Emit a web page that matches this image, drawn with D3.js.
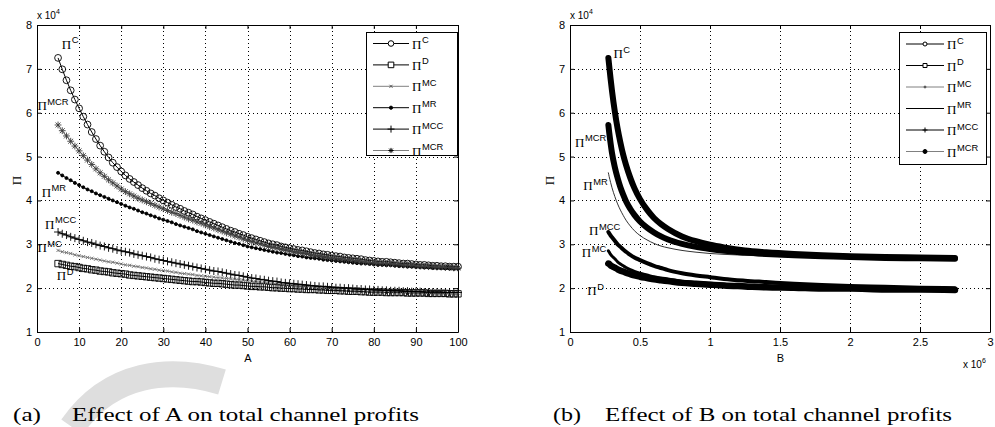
<!DOCTYPE html>
<html lang="en">
<head>
<meta charset="UTF-8">
<title>Effect of A and B on total channel profits</title>
<style>
  body { margin: 0; background: #fff; }
  svg { display: block; }
  text { font-family: "Liberation Sans", Arial, sans-serif; fill: #000; }
  .serif { font-family: "Liberation Serif", "Times New Roman", serif; }
</style>
</head>
<body>
<div id="chart"></div>
<script src="https://cdnjs.cloudflare.com/ajax/libs/d3/7.8.5/d3.min.js"></script>
<script>
// ---- data (profits in units of 10^4) ----
const A_VALUES = d3.range(5, 101);   // A = 5, 6, ..., 100
const piC_A = [7.25,6.99,6.74,6.51,6.30,6.10, 5.91,5.73,5.56,5.40,5.25, 5.11,4.98,4.86,4.76,4.66, 4.57,4.49,4.42,4.35,4.28, 4.22,4.16,4.11,4.05,4.00, 3.95,3.90,3.85,3.81,3.76, 3.72,3.68,3.63,3.59,3.55, 3.51,3.47,3.43,3.39,3.35, 3.31,3.28,3.24,3.21,3.17, 3.14,3.11,3.08,3.05,3.02, 3.00,2.98,2.95,2.93,2.91, 2.89,2.87,2.86,2.84,2.82, 2.80,2.79,2.77,2.76,2.74, 2.73,2.72,2.70,2.69,2.68, 2.67,2.66,2.64,2.63,2.62, 2.61,2.60,2.60,2.59,2.58, 2.57,2.56,2.56,2.55,2.54, 2.53,2.53,2.52,2.51,2.51, 2.50,2.50,2.49,2.49,2.49];
const piD_A = [2.56,2.54,2.52,2.50,2.49,2.47, 2.45,2.44,2.42,2.41,2.39, 2.38,2.37,2.35,2.34,2.33, 2.32,2.30,2.29,2.28,2.27, 2.26,2.25,2.24,2.23,2.22, 2.21,2.20,2.19,2.18,2.17, 2.16,2.15,2.15,2.14,2.13, 2.12,2.11,2.11,2.10,2.09, 2.08,2.07,2.07,2.06,2.05, 2.04,2.04,2.03,2.03,2.02, 2.01,2.01,2.00,2.00,1.99, 1.99,1.98,1.98,1.97,1.97, 1.97,1.96,1.96,1.95,1.95, 1.95,1.94,1.94,1.93,1.93, 1.93,1.92,1.92,1.91,1.91, 1.91,1.91,1.90,1.90,1.90, 1.90,1.90,1.89,1.89,1.89, 1.89,1.89,1.88,1.88,1.88, 1.88,1.88,1.87,1.87,1.87];
const piMC_A = [2.86,2.83,2.81,2.79,2.76,2.74, 2.72,2.70,2.68,2.66,2.64, 2.62,2.60,2.59,2.57,2.55, 2.53,2.52,2.50,2.49,2.47, 2.46,2.44,2.43,2.41,2.40, 2.39,2.37,2.36,2.34,2.33, 2.32,2.31,2.29,2.28,2.27, 2.26,2.25,2.24,2.23,2.22, 2.21,2.20,2.19,2.18,2.17, 2.16,2.15,2.14,2.13,2.12, 2.11,2.10,2.10,2.09,2.08, 2.07,2.06,2.06,2.05,2.04, 2.03,2.03,2.02,2.02,2.01, 2.00,2.00,1.99,1.99,1.98, 1.97,1.97,1.96,1.96,1.95, 1.95,1.94,1.94,1.93,1.93, 1.93,1.92,1.92,1.91,1.91, 1.91,1.90,1.90,1.89,1.89, 1.89,1.89,1.88,1.88,1.88];
const piMR_A = [4.63,4.57,4.51,4.46,4.40,4.35, 4.30,4.25,4.21,4.16,4.12, 4.08,4.04,4.00,3.96,3.92, 3.88,3.84,3.81,3.77,3.73, 3.70,3.66,3.63,3.59,3.56, 3.53,3.50,3.46,3.43,3.40, 3.37,3.34,3.30,3.27,3.24, 3.21,3.18,3.15,3.12,3.09, 3.06,3.03,3.01,2.98,2.95, 2.93,2.91,2.89,2.87,2.85, 2.83,2.81,2.80,2.78,2.76, 2.75,2.73,2.72,2.70,2.69, 2.68,2.67,2.65,2.64,2.63, 2.62,2.61,2.60,2.59,2.58, 2.57,2.56,2.56,2.55,2.54, 2.53,2.53,2.52,2.52,2.51, 2.50,2.50,2.49,2.49,2.48, 2.48,2.47,2.47,2.46,2.46, 2.46,2.45,2.45,2.44,2.44];
const piMCC_A = [3.28,3.24,3.21,3.17,3.14,3.11, 3.08,3.05,3.03,3.00,2.97, 2.95,2.92,2.90,2.87,2.85, 2.83,2.81,2.78,2.76,2.74, 2.72,2.70,2.67,2.65,2.63, 2.61,2.59,2.57,2.55,2.53, 2.51,2.49,2.47,2.45,2.43, 2.41,2.39,2.38,2.36,2.34, 2.32,2.30,2.29,2.27,2.25, 2.23,2.22,2.20,2.19,2.17, 2.16,2.15,2.13,2.12,2.11, 2.10,2.09,2.08,2.07,2.06, 2.05,2.04,2.04,2.03,2.02, 2.01,2.01,2.00,2.00,1.99, 1.98,1.98,1.97,1.97,1.96, 1.96,1.95,1.95,1.94,1.94, 1.94,1.93,1.93,1.92,1.92, 1.92,1.91,1.91,1.91,1.91, 1.91,1.90,1.90,1.90,1.90];
const piMCR_A = [5.72,5.59,5.47,5.35,5.24,5.13, 5.02,4.92,4.82,4.72,4.63, 4.55,4.47,4.40,4.33,4.26, 4.20,4.15,4.10,4.05,4.01, 3.97,3.93,3.89,3.85,3.81, 3.77,3.73,3.70,3.66,3.62, 3.58,3.55,3.51,3.48,3.44, 3.40,3.37,3.33,3.30,3.26, 3.23,3.19,3.16,3.12,3.09, 3.06,3.03,3.01,2.98,2.95, 2.93,2.91,2.89,2.87,2.85, 2.83,2.82,2.80,2.79,2.77, 2.75,2.74,2.72,2.71,2.69, 2.68,2.67,2.66,2.65,2.64, 2.63,2.61,2.60,2.59,2.58, 2.57,2.57,2.56,2.56,2.55, 2.54,2.53,2.53,2.52,2.51, 2.50,2.50,2.49,2.49,2.48, 2.48,2.47,2.47,2.46,2.46];

// B in units of 10^6
const B_VALUES = [0.274,0.28,0.29,0.30,0.32,0.34,0.36,0.38,0.40,0.43,0.46,0.50,0.55,0.60,0.65,0.70,0.80,0.90,1.00,1.10,1.25,1.40,1.60,1.80,2.00,2.25,2.50,2.75];
const piC_B   = [7.25,7.07,6.77,6.50,6.03,5.64,5.32,5.04,4.81,4.52,4.28,4.03,3.79,3.60,3.46,3.35,3.18,3.07,2.99,2.93,2.86,2.82,2.78,2.75,2.73,2.71,2.70,2.69];
const piD_B   = [2.56,2.55,2.52,2.50,2.47,2.43,2.40,2.38,2.35,2.32,2.29,2.26,2.23,2.20,2.18,2.16,2.12,2.10,2.08,2.06,2.04,2.02,2.01,1.99,1.99,1.97,1.97,1.96];
const piMC_B  = [2.85,2.82,2.77,2.73,2.67,2.60,2.55,2.51,2.47,2.42,2.38,2.34,2.30,2.26,2.23,2.21,2.16,2.13,2.11,2.09,2.07,2.05,2.03,2.02,2.01,2.00,1.99,1.98];
const piMR_B  = [4.63,4.54,4.41,4.29,4.09,3.92,3.78,3.66,3.55,3.42,3.31,3.20,3.10,3.02,2.96,2.92,2.86,2.82,2.79,2.77,2.75,2.73,2.71,2.69,2.68,2.67,2.66,2.65];
const piMCC_B = [3.28,3.25,3.20,3.16,3.08,3.00,2.94,2.88,2.83,2.76,2.70,2.64,2.57,2.51,2.46,2.41,2.34,2.29,2.25,2.21,2.17,2.14,2.10,2.07,2.05,2.03,2.01,2.00];
const piMCR_B = [5.72,5.55,5.30,5.08,4.76,4.51,4.30,4.13,3.98,3.81,3.67,3.52,3.38,3.27,3.18,3.11,3.01,2.94,2.89,2.85,2.81,2.78,2.75,2.73,2.71,2.69,2.68,2.67];

const SUPS = ["C", "D", "MC", "MR", "MCC", "MCR"];
const Y_TICKS = [1, 2, 3, 4, 5, 6, 7, 8];
const A_TICKS = [0, 10, 20, 30, 40, 50, 60, 70, 80, 90, 100];
const B_TICKS = [0, 0.5, 1, 1.5, 2, 2.5, 3];

// label anchors (data coordinates) for the curve annotations
const labelsA = [[5.9, 7.46], [4.7, 2.18], [0.1, 2.82], [1.1, 4.08], [1.9, 3.35], [0.1, 6.06]];
const labelsB = [[0.31, 7.24], [0.124, 1.84], [0.084, 2.71], [0.095, 4.23], [0.136, 3.21], [0.036, 5.22]];

const svg = d3.select("#chart").append("svg").attr("width", 995).attr("height", 427);

// faint watermark stroke behind the figure
svg.append("path").attr("d", "M222,382 C170,366 110,372 72,427")
  .attr("fill", "none").attr("stroke", "#dedede").attr("stroke-width", 26);

function markerPath(type, s) {
  if (type === "circle" || type === "dot") return `M${s},0A${s},${s} 0 1,1 ${-s},0A${s},${s} 0 1,1 ${s},0Z`;
  if (type === "square") return `M${-s},${-s}H${s}V${s}H${-s}Z`;
  if (type === "x") return `M${-s},${-s}L${s},${s}M${-s},${s}L${s},${-s}`;
  if (type === "plus") return `M${-s},0H${s}M0,${-s}V${s}`;
  if (type === "star") {
    const d = s * 0.72;
    return `M${-s},0H${s}M0,${-s}V${s}M${-d},${-d}L${d},${d}M${-d},${d}L${d},${-d}`;
  }
  return "";
}

function piLabel(g, x, y, sup, size) {
  const t = g.append("text").attr("x", x).attr("y", y);
  t.append("tspan").attr("class", "serif").attr("font-size", size).text("\u03A0");
  t.append("tspan").attr("font-size", size * 0.72).attr("dy", -size * 0.42).attr("dx", 0.5).text(sup);
}

function caption(x, y, str, len) {
  svg.append("text").attr("class", "serif").attr("font-size", 19)
    .attr("x", x).attr("y", y)
    .attr("textLength", len).attr("lengthAdjust", "spacingAndGlyphs")
    .text(str);
}

function drawFrame(g, x, y, xTicks, xLabel, expo) {
  const [x0, x1] = x.range();
  const [yb, yt] = y.range();

  // dotted grid
  g.append("g").selectAll("line").data(xTicks.slice(1, -1)).join("line")
    .attr("x1", d => Math.round(x(d)) + 0.5).attr("x2", d => Math.round(x(d)) + 0.5)
    .attr("y1", yb).attr("y2", yt)
    .attr("stroke", "#000").attr("stroke-dasharray", "1,3");
  g.append("g").selectAll("line").data(Y_TICKS.slice(1, -1)).join("line")
    .attr("y1", d => Math.round(y(d)) + 0.5).attr("y2", d => Math.round(y(d)) + 0.5)
    .attr("x1", x0).attr("x2", x1)
    .attr("stroke", "#000").attr("stroke-dasharray", "1,3");

  // box with inward ticks
  const fmt = d => String(d);
  g.append("g").attr("transform", `translate(0,${yb})`)
    .call(d3.axisBottom(x).tickValues(xTicks).tickFormat(fmt).tickSizeInner(-4).tickSizeOuter(0).tickPadding(6));
  g.append("g").attr("transform", `translate(0,${yt})`)
    .call(d3.axisTop(x).tickValues(xTicks).tickFormat("").tickSizeInner(-4).tickSizeOuter(0));
  g.append("g").attr("transform", `translate(${x0},0)`)
    .call(d3.axisLeft(y).tickValues(Y_TICKS).tickFormat(fmt).tickSizeInner(-4).tickSizeOuter(0).tickPadding(5));
  g.append("g").attr("transform", `translate(${x1},0)`)
    .call(d3.axisRight(y).tickValues(Y_TICKS).tickFormat("").tickSizeInner(-4).tickSizeOuter(0));
  g.selectAll(".tick text").attr("font-size", 11).attr("font-family", "Liberation Sans, Arial, sans-serif");
  g.selectAll(".domain, .tick line").attr("stroke", "#000");

  // axis labels
  g.append("text").attr("x", (x0 + x1) / 2 + 0.5).attr("y", 362)
    .attr("text-anchor", "middle").attr("font-size", 11).text(xLabel);
  g.append("text").attr("class", "serif").attr("font-size", 13)
    .attr("text-anchor", "middle").attr("dominant-baseline", "central")
    .attr("transform", `translate(${x0 - 21},${(yb + yt) / 2 + 2}) rotate(-90)`).text("\u03A0");

  // y exponent
  const e = g.append("text").attr("x", x0).attr("y", 19).attr("font-size", 10);
  e.append("tspan").text("x 10");
  e.append("tspan").attr("font-size", 7).attr("dy", -5).text(expo);
}

function drawLegend(g, box, rows) {
  g.append("rect").attr("x", box.x + 0.5).attr("y", box.y + 0.5)
    .attr("width", box.w).attr("height", box.h)
    .attr("fill", "#fff").attr("stroke", "#000");
  rows.forEach((r, i) => {
    const yy = box.y + box.first + i * box.step;
    g.append("line").attr("x1", box.lx1).attr("x2", box.lx2).attr("y1", yy).attr("y2", yy)
      .attr("stroke", r.line).attr("stroke-width", 1);
    if (r.marker) {
      g.append("path").attr("transform", `translate(${(box.lx1 + box.lx2) / 2},${yy})`)
        .attr("d", markerPath(r.marker, r.size))
        .attr("fill", r.marker === "dot" ? r.mcolor : (r.marker === "square" || r.marker === "circle" ? "#fff" : "none"))
        .attr("stroke", r.mcolor).attr("stroke-width", 1);
    }
    piLabel(g, box.tx, yy + 5, SUPS[i], 13);
  });
}

// ---------------- panel (a) ----------------
{
  const g = svg.append("g");
  const x = d3.scaleLinear().domain([0, 100]).range([37, 458]);
  const y = d3.scaleLinear().domain([1, 8]).range([332, 25]);
  drawFrame(g, x, y, A_TICKS, "A", "4");

  const series = [
    { v: piC_A,   line: "#000",    marker: "circle", size: 3.4, mcolor: "#000" },
    { v: piD_A,   line: "#000",    marker: "square", size: 3.2, mcolor: "#000" },
    { v: piMC_A,  line: "#808080", marker: "x",      size: 1.6, mcolor: "#707070" },
    { v: piMR_A,  line: "#000",    marker: "dot",    size: 1.5, mcolor: "#000" },
    { v: piMCC_A, line: "#000",    marker: "plus",   size: 4,   mcolor: "#000" },
    { v: piMCR_A, line: "#808080", marker: "star",   size: 3.4, mcolor: "#3a3a3a" }
  ];
  const line = d3.line().x((d, i) => x(A_VALUES[i])).y(d => y(d));
  series.forEach(s => {
    g.append("path").attr("d", line(s.v)).attr("fill", "none")
      .attr("stroke", s.line).attr("stroke-width", 1);
    g.append("g").selectAll("path").data(s.v).join("path")
      .attr("transform", (d, i) => `translate(${x(A_VALUES[i])},${y(d)})`)
      .attr("d", markerPath(s.marker, s.size))
      .attr("fill", s.marker === "dot" ? s.mcolor : "none")
      .attr("stroke", s.mcolor).attr("stroke-width", 0.9);
  });

  labelsA.forEach((p, i) => piLabel(g, x(p[0]), y(p[1]), SUPS[i], 13));

  drawLegend(g, { x: 366, y: 32, w: 91, h: 123, first: 11.5, step: 21.4, lx1: 373, lx2: 409, tx: 412 }, [
    { line: "#000",    marker: "circle", size: 2.8, mcolor: "#000" },
    { line: "#000",    marker: "square", size: 2.8, mcolor: "#000" },
    { line: "#808080", marker: "x",      size: 1.5, mcolor: "#555" },
    { line: "#000",    marker: "dot",    size: 1.6, mcolor: "#000" },
    { line: "#000",    marker: "plus",   size: 3.5, mcolor: "#000" },
    { line: "#808080", marker: "star",   size: 2.6, mcolor: "#000" }
  ]);

  caption(13, 421, "(a)", 28);
  caption(72, 421, "Effect of A on total channel profits", 347);
}

// ---------------- panel (b) ----------------
{
  const g = svg.append("g");
  const x = d3.scaleLinear().domain([0, 3]).range([570, 990]);
  const y = d3.scaleLinear().domain([1, 8]).range([332, 25]);
  drawFrame(g, x, y, B_TICKS, "B", "4");

  const series = [
    { v: piC_B,   color: "#000", width: 6 },
    { v: piD_B,   color: "#000", width: 6.5 },
    { v: piMC_B,  color: "#000", width: 3 },
    { v: piMR_B,  color: "#333", width: 1 },
    { v: piMCC_B, color: "#000", width: 4 },
    { v: piMCR_B, color: "#000", width: 6 }
  ];
  const line = d3.line().x((d, i) => x(B_VALUES[i])).y(d => y(d)).curve(d3.curveMonotoneX);
  series.forEach(s => {
    g.append("path").attr("d", line(s.v)).attr("fill", "none")
      .attr("stroke", s.color).attr("stroke-width", s.width)
      .attr("stroke-linecap", "round").attr("stroke-linejoin", "round");
  });

  labelsB.forEach((p, i) => piLabel(g, x(p[0]), y(p[1]), SUPS[i], 13));

  drawLegend(g, { x: 899, y: 32, w: 87, h: 132, first: 12, step: 21.5, lx1: 906, lx2: 944, tx: 947 }, [
    { line: "#000",    marker: "circle", size: 2,   mcolor: "#000" },
    { line: "#000",    marker: "square", size: 2,   mcolor: "#000" },
    { line: "#808080", marker: "dot",    size: 1,   mcolor: "#555" },
    { line: "#000",    marker: null },
    { line: "#000",    marker: "plus",   size: 2.5, mcolor: "#000" },
    { line: "#808080", marker: "dot",    size: 2,   mcolor: "#000" }
  ]);

  // x exponent
  const e = g.append("text").attr("x", 963).attr("y", 368).attr("font-size", 10);
  e.append("tspan").text("x 10");
  e.append("tspan").attr("font-size", 7).attr("dy", -5).text("6");

  caption(553, 421, "(b)", 28);
  caption(605, 421, "Effect of B on total channel profits", 347);
}
</script>
</body>
</html>
